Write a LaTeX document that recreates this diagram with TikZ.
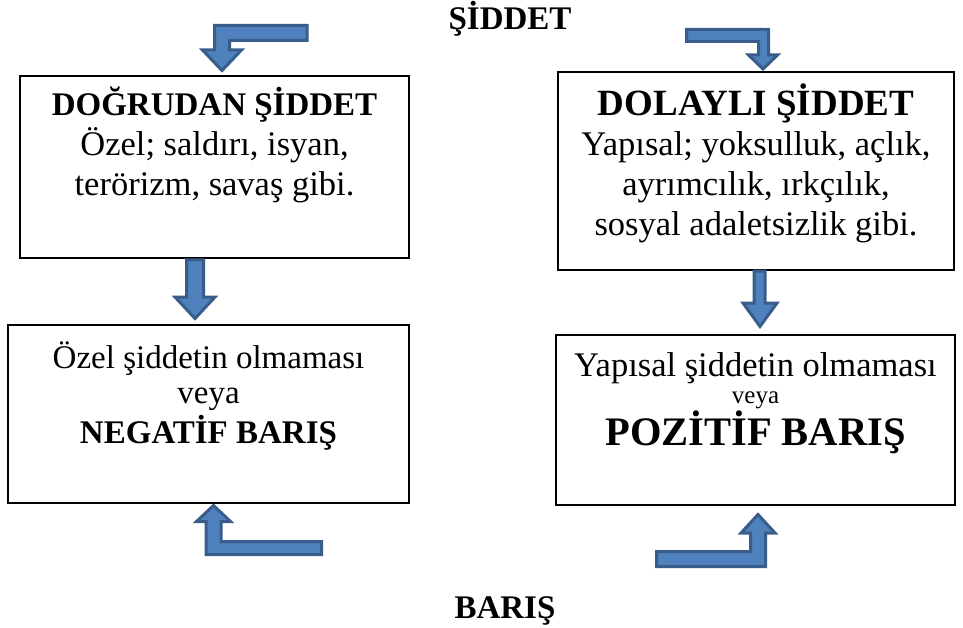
\documentclass[tikz,border=0pt]{standalone}
\usepackage{fontspec}
\setmainfont{Liberation Serif}
\definecolor{arrfill}{HTML}{4F81BD}
\definecolor{arrline}{HTML}{385D8A}
\tikzset{
  box/.style={draw=black, line width=1.8pt, fill=white, rectangle, inner sep=0pt},
  bigarrow/.style={fill=arrfill, draw=arrline, line width=3pt, line join=miter},
  txt/.style={anchor=base, inner sep=0pt, font=\fontsize{33}{40}\selectfont},
  txtl/.style={anchor=base, inner sep=0pt, font=\fontsize{34.5}{40}\selectfont},
  txtb/.style={txt, font=\fontsize{33}{40}\selectfont\bfseries},
  txtbl/.style={txt, font=\fontsize{37}{40}\selectfont\bfseries},
  txtbx/.style={txt, font=\fontsize{40.5}{44}\selectfont\bfseries},
  txts/.style={anchor=base, inner sep=0pt, font=\fontsize{25}{30}\selectfont},
}
\begin{document}
\begin{tikzpicture}[x=1pt,y=-1pt]
\useasboundingbox (0,0) rectangle (963,628);
% boxes
\node[box, minimum width=389pt, minimum height=182pt] (b1) at (214.5,167) {};
\node[box, minimum width=401pt, minimum height=178pt] (b2) at (208.5,414) {};
\node[box, minimum width=396pt, minimum height=198pt] (b3) at (756,171) {};
\node[box, minimum width=399pt, minimum height=170pt] (b4) at (755.5,420) {};
% titles
\node[txtb] (t1) at (510,30) {ŞİDDET};
\node[txtb] (t2) at (505,618) {BARIŞ};
% box 1 text
\node[txtb] (l11) at (b1.center |- 0,116) {DOĞRUDAN ŞİDDET};
\node[txtl] (l12) at (b1.center |- 0,156) {Özel; saldırı, isyan,};
\node[txtl] (l13) at (b1.center |- 0,196) {terörizm, savaş gibi.};
% box 3 text
\node[txtbl] (l31) at (b3.center |- 0,116) {DOLAYLI ŞİDDET};
\node[txtl] (l32) at (b3.center |- 0,156) {Yapısal; yoksulluk, açlık,};
\node[txtl] (l33) at (b3.center |- 0,196) {ayrımcılık, ırkçılık,};
\node[txtl] (l34) at (b3.center |- 0,236) {sosyal adaletsizlik gibi.};
% box 2 text
\node[txt] (l21) at (b2.center |- 0,368) {Özel şiddetin olmaması};
\node[txt] (l22) at (b2.center |- 0,403) {veya};
\node[txtb] (l23) at (b2.center |- 0,443) {NEGATİF BARIŞ};
% box 4 text
\node[txtl] (l41) at (b4.center |- 0,376) {Yapısal şiddetin olmaması};
\node[txts] (l42) at (b4.center |- 0,403) {veya};
\node[txtbx] (l43) at (b4.center |- 0,445) {POZİTİF BARIŞ};
% arrows
% top-left bent arrow
\draw[bigarrow] (307,25.5) -- (214.5,25.5) -- (214.5,50) -- (202.5,50) -- (222,70.5) -- (241.5,50) -- (229.5,50) -- (229.5,40.5) -- (307,40.5) -- cycle;
% top-right bent arrow
\draw[bigarrow] (686.5,29.5) -- (768.5,29.5) -- (768.5,55) -- (777.5,55) -- (763,69) -- (748.5,55) -- (758.5,55) -- (758.5,41.5) -- (686.5,41.5) -- cycle;
% middle-left down arrow
\draw[bigarrow] (186.5,260) -- (203.5,260) -- (203.5,297) -- (215,297) -- (195,318.5) -- (175,297) -- (186.5,297) -- cycle;
% middle-right down arrow
\draw[bigarrow] (754,271) -- (765,271) -- (765,303) -- (777,303) -- (760,326.5) -- (743,303) -- (754,303) -- cycle;
% bottom-left bent arrow
\draw[bigarrow] (213.5,505.5) -- (230.5,521.5) -- (221,521.5) -- (221,541.5) -- (321.5,541.5) -- (321.5,554.5) -- (206,554.5) -- (206,521.5) -- (196.5,521.5) -- cycle;
% bottom-right bent arrow
\draw[bigarrow] (758,514.5) -- (775,533) -- (765.5,533) -- (765.5,566.5) -- (656.5,566.5) -- (656.5,551.5) -- (750.5,551.5) -- (750.5,533) -- (741,533) -- cycle;
\end{tikzpicture}
\end{document}
